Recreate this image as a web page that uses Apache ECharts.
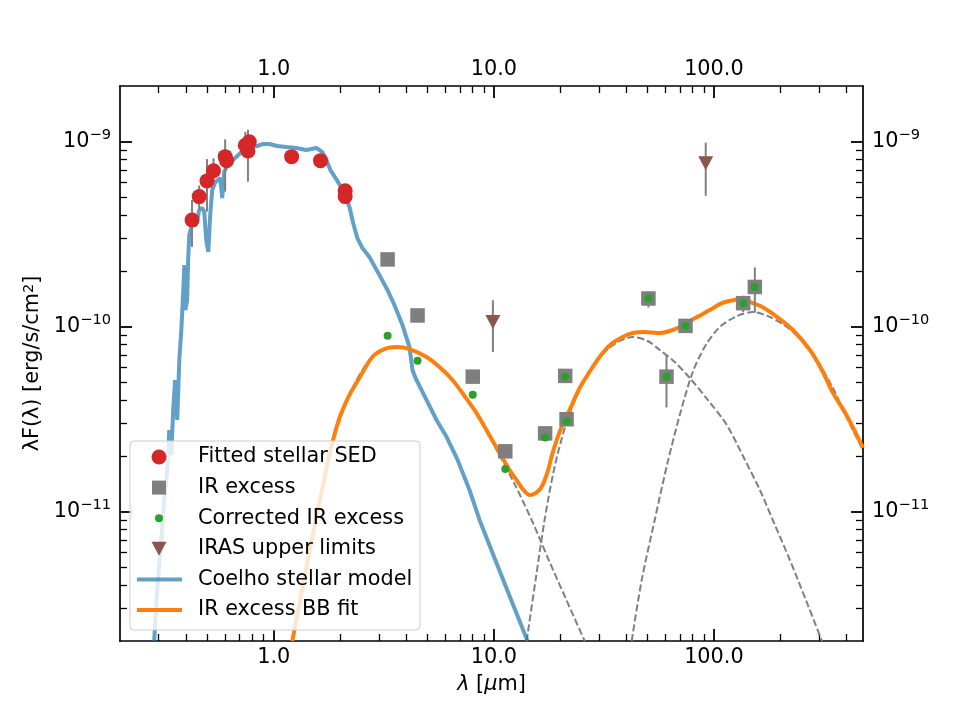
<!DOCTYPE html>
<html>
<head>
<meta charset="utf-8">
<title>SED</title>
<script src="https://cdn.jsdelivr.net/npm/echarts@6/dist/echarts.min.js"></script>
<style>
  html, body { margin: 0; padding: 0; background: #fff; }
  #main { width: 960px; height: 720px; }
</style>
</head>
<body>
<div id="main"></div>
<script>
// axis ranges / ticks
var xMin = 0.2, xMax = 476;
var yMin = 2e-12, yMax = 2e-9;
var xMajorTicks = [1, 10, 100];
var xMinorTicks = [0.3, 0.4, 0.5, 0.6, 0.7, 0.8, 0.9, 2, 3, 4, 5, 6, 7, 8, 9, 20, 30, 40, 50, 60, 70, 80, 90, 200, 300, 400];
var yMajorTicks = [1e-11, 1e-10, 1e-9];
var yMinorTicks = [3e-12, 4e-12, 5e-12, 6e-12, 7e-12, 8e-12, 9e-12, 2e-11, 3e-11, 4e-11, 5e-11, 6e-11, 7e-11, 8e-11, 9e-11,
  2e-10, 3e-10, 4e-10, 5e-10, 6e-10, 7e-10, 8e-10, 9e-10];

// fitted stellar SED (micron, erg/s/cm2)
var sedWave = [0.425, 0.458, 0.497, 0.532, 0.601, 0.610, 0.742, 0.774, 0.763, 1.205, 1.63, 2.11, 2.11];
var sedFlux = [3.77e-10, 5.05e-10, 6.14e-10, 6.97e-10, 8.30e-10, 7.90e-10, 9.57e-10, 1.0e-9, 8.9e-10, 8.3e-10, 7.9e-10, 5.43e-10, 5.05e-10];

// IR excess and corrected IR excess
var irWave = [3.29, 4.5, 8.02, 11.27, 17.1, 21.1, 21.4, 50.4, 60.9, 74.3, 135.8, 153.5];
var irFlux = [2.31e-10, 1.15e-10, 5.37e-11, 2.12e-11, 2.65e-11, 5.42e-11, 3.16e-11, 1.42e-10, 5.37e-11, 1.01e-10, 1.34e-10, 1.64e-10];
var corrFlux = [8.93e-11, 6.55e-11, 4.28e-11, 1.70e-11, 2.52e-11, 5.37e-11, 3.08e-11, 1.42e-10, 5.37e-11, 1.01e-10, 1.34e-10, 1.64e-10];

// IRAS upper limits
var irasWave = [9.9, 91.8];
var irasFlux = [1.06e-10, 7.64e-10];

// error bars (low, high)
var errWave = [0.425, 0.458, 0.497, 0.532, 0.601, 0.742, 0.763, 50.4, 60.9, 135.8, 153.5, 9.9, 91.8];
var errLow  = [2.70e-10, 4.3e-10, 4.19e-10, 6.2e-10, 5.37e-10, 8.83e-10, 6.08e-10, 1.27e-10, 3.66e-11, 1.2e-10, 1.19e-10, 7.3e-11, 5.1e-10];
var errHigh = [4.84e-10, 5.8e-10, 8.05e-10, 8.14e-10, 1.03e-9, 1.13e-9, 1.16e-9, 1.55e-10, 7.03e-11, 1.47e-10, 2.09e-10, 1.39e-10, 9.88e-10];

// Coelho stellar model
var modelWave = [0.286, 0.295, 0.308, 0.318, 0.328, 0.335, 0.342, 0.349, 0.356, 0.364, 0.372, 0.380, 0.388, 0.392, 0.396,
  0.404, 0.408, 0.413, 0.421, 0.430, 0.439, 0.449, 0.458, 0.473, 0.483, 0.493, 0.504, 0.514, 0.525, 0.542, 0.559, 0.571,
  0.583, 0.595, 0.614, 0.641, 0.675, 0.711, 0.750, 0.790, 0.841, 0.896, 0.954, 1.037, 1.140, 1.266, 1.406, 1.481, 1.561,
  1.662, 1.734, 1.807, 1.905, 2.007, 2.115, 2.206, 2.300, 2.398, 2.527, 2.719, 3.020, 3.284, 3.533, 3.843, 4.136, 4.267,
  4.404, 4.688, 4.994, 5.487, 6.094, 6.837, 7.752, 8.610, 10.07, 11.79, 14.23];
var modelFlux = [2.0e-12, 3.78e-12, 7.04e-12, 1.16e-11, 1.68e-11, 2.76e-11, 2.02e-11, 3.55e-11, 5.15e-11, 3.13e-11, 6.6e-11,
  9.6e-11, 1.58e-10, 2.15e-10, 1.23e-10, 1.39e-10, 2.29e-10, 3.13e-10, 3.42e-10, 3.68e-10, 3.50e-10, 3.77e-10, 4.28e-10,
  4.38e-10, 4.17e-10, 2.94e-10, 2.54e-10, 4.02e-10, 5.48e-10, 6.06e-10, 6.21e-10, 6.37e-10, 4.96e-10, 6.87e-10, 7.40e-10,
  7.77e-10, 8.27e-10, 8.79e-10, 9.36e-10, 9.48e-10, 9.48e-10, 9.72e-10, 9.72e-10, 9.48e-10, 9.36e-10, 9.25e-10, 9.02e-10,
  9.13e-10, 9.25e-10, 8.79e-10, 7.96e-10, 7.03e-10, 6.37e-10, 5.77e-10, 5.09e-10, 4.44e-10, 3.59e-10, 3.01e-10, 2.66e-10,
  2.38e-10, 1.90e-10, 1.58e-10, 1.31e-10, 1.02e-10, 7.76e-11, 5.83e-11, 5.28e-11, 4.55e-11, 3.92e-11, 3.13e-11, 2.54e-11,
  1.91e-11, 1.31e-11, 9.02e-12, 5.62e-12, 3.50e-12, 2.0e-12];

// IR excess BB fit (total)
var fitWave = [1.214, 1.306, 1.450, 1.611, 1.789, 1.986, 2.206, 2.449, 2.806, 3.183, 3.646, 4.136, 4.941, 5.662, 6.488,
  7.357, 8.342, 9.362, 10.61, 11.79, 12.69, 13.65, 14.54, 15.48, 16.48, 17.55, 18.50, 19.91, 22.11, 24.55, 28.12, 31.22,
  34.67, 38.50, 42.76, 48.48, 56.75, 63.02, 69.98, 81.88, 95.8, 108.6, 121.9, 134.0, 145.7, 165.2, 193.3, 228.6, 273.2,
  309.7, 347.5, 402.5, 476];
var fitFlux = [2.0e-12, 3.17e-12, 6.05e-12, 1.11e-11, 2.02e-11, 3.20e-11, 4.27e-11, 5.28e-11, 6.86e-11, 7.57e-11, 7.76e-11,
  7.57e-11, 6.86e-11, 6.05e-11, 5.15e-11, 4.22e-11, 3.41e-11, 2.70e-11, 2.08e-11, 1.68e-11, 1.48e-11, 1.31e-11, 1.23e-11,
  1.26e-11, 1.36e-11, 1.64e-11, 2.08e-11, 2.70e-11, 3.55e-11, 4.66e-11, 6.05e-11, 7.21e-11, 8.17e-11, 8.80e-11, 9.24e-11,
  9.36e-11, 9.24e-11, 9.48e-11, 9.96e-11, 1.11e-10, 1.23e-10, 1.34e-10, 1.39e-10, 1.41e-10, 1.36e-10, 1.28e-10, 1.13e-10,
  9.6e-11, 7.48e-11, 5.83e-11, 4.39e-11, 3.29e-11, 2.21e-11];

// individual blackbody components (dashed)
var bb1Wave = [1.214, 1.450, 1.789, 2.206, 2.806, 3.646, 4.941, 6.488, 8.342, 10.61, 12.43, 14.85, 17.92, 21.42, 25.87];
var bb1Flux = [2.0e-12, 6.05e-12, 2.02e-11, 4.27e-11, 6.86e-11, 7.76e-11, 6.86e-11, 5.15e-11, 3.41e-11, 2.02e-11, 1.41e-11,
  9.02e-12, 5.35e-12, 3.31e-12, 2.0e-12];
var bb2Wave = [14.09, 15.48, 17.01, 18.89, 21.42, 24.55, 28.12, 31.89, 36.54, 42.76, 50.04, 56.75, 66.39, 77.70, 93.82,
  114.5, 138.2, 161.8, 189.3, 221.5, 261.9, 309.7];
var bb2Flux = [2.0e-12, 4.28e-12, 9.02e-12, 1.75e-11, 3.05e-11, 4.55e-11, 5.98e-11, 7.29e-11, 8.26e-11, 8.79e-11, 8.37e-11,
  7.48e-11, 6.44e-11, 5.28e-11, 4.02e-11, 2.94e-11, 1.91e-11, 1.31e-11, 8.48e-12, 5.48e-12, 3.33e-12, 2.0e-12];
var bb3Wave = [42.31, 46.99, 53.84, 61.70, 69.98, 80.17, 91.89, 106.4, 127.1, 150.3, 175.9, 205.9, 246.0, 287.7, 347.5,
  406.6, 476];
var bb3Flux = [2.0e-12, 4.28e-12, 9.02e-12, 1.86e-11, 3.33e-11, 5.69e-11, 7.96e-11, 9.96e-11, 1.14e-10, 1.20e-10, 1.14e-10,
  1.03e-10, 8.69e-11, 6.86e-11, 4.66e-11, 3.13e-11, 2.16e-11];

var legendNames = ['Fitted stellar SED', 'IR excess', 'Corrected IR excess', 'IRAS upper limits',
  'Coelho stellar model', 'IR excess BB fit'];

function zip(a, b) {
  return a.map(function (v, i) { return [v, b[i]]; });
}

var FONT = 'DejaVu Sans';
var FS = 20.8;   // 10pt at 150 dpi
var FS_SUP = 14.6;

function xAx(pos, major, name) {
  return {
    type: 'log', logBase: 10, min: xMin, max: xMax, position: pos,
    name: name || '', nameLocation: 'middle', nameGap: 33,
    nameTextStyle: {
      color: '#000', fontSize: FS, fontFamily: FONT,
      rich: { i: { fontSize: FS, fontFamily: FONT, fontStyle: 'italic', color: '#000' } }
    },
    axisLine: { show: major, onZero: false, lineStyle: { color: '#000', width: 1.7 } },
    axisTick: {
      show: true, inside: true, length: major ? 12 : 7,
      customValues: major ? xMajorTicks : xMinorTicks,
      lineStyle: { color: '#000', width: major ? 1.8 : 1.3 }
    },
    axisLabel: {
      show: major, customValues: xMajorTicks, margin: 6, color: '#000', fontSize: FS, fontFamily: FONT,
      formatter: function (v) { return Number(v).toFixed(1); }
    },
    splitLine: { show: false }
  };
}

function yAx(pos, major, name) {
  return {
    type: 'log', logBase: 10, min: yMin, max: yMax, position: pos,
    name: name || '', nameLocation: 'middle', nameGap: 76,
    nameTextStyle: {
      color: '#000', fontSize: FS, fontFamily: FONT,
      rich: { s: { fontSize: FS_SUP, fontFamily: FONT, color: '#000', verticalAlign: 'top', lineHeight: 16 } }
    },
    axisLine: { show: major, onZero: false, lineStyle: { color: '#000', width: 1.7 } },
    axisTick: {
      show: true, inside: true, length: major ? 12 : 7,
      customValues: major ? yMajorTicks : yMinorTicks,
      lineStyle: { color: '#000', width: major ? 1.8 : 1.3 }
    },
    axisLabel: {
      show: major, customValues: yMajorTicks, margin: 9, color: '#000', fontSize: FS, fontFamily: FONT,
      formatter: function (v) {
        var e = Math.round(Math.log10(v));
        return '{b|10}{s|\u2212' + (-e) + '}';
      },
      rich: {
        b: { fontSize: FS, fontFamily: FONT, color: '#000', lineHeight: 28 },
        s: { fontSize: FS_SUP, fontFamily: FONT, color: '#000', verticalAlign: 'top', lineHeight: 16 }
      }
    },
    splitLine: { show: false }
  };
}

// legend drawn as graphic
var legX = 130, legY = 441, rowY0 = 457, rowH = 30.6, mX = 159;
var legendGraphic = [{
  type: 'rect', z: 100,
  shape: { x: legX, y: legY, width: 290, height: 189, r: 4 },
  style: { fill: 'rgba(255,255,255,0.8)', stroke: '#cccccc', lineWidth: 1 }
}];
var markers = [
  { type: 'circle', shape: { cx: mX, cy: 0, r: 7.5 }, style: { fill: '#d62728' } },
  { type: 'rect', shape: { x: mX - 7, y: -7, width: 14, height: 14 }, style: { fill: '#7f7f7f' } },
  { type: 'circle', shape: { cx: mX, cy: 0, r: 4 }, style: { fill: '#2ca02c' } },
  { type: 'polygon', shape: { points: [[mX - 7.5, -7], [mX + 7.5, -7], [mX, 7]] }, style: { fill: '#8c564b' } },
  { type: 'line', shape: { x1: 137, y1: 0, x2: 182, y2: 0 }, style: { stroke: 'rgba(31,119,180,0.7)', lineWidth: 4 } },
  { type: 'line', shape: { x1: 137, y1: 0, x2: 182, y2: 0 }, style: { stroke: '#ff7f0e', lineWidth: 4 } }
];
legendNames.forEach(function (n, i) {
  var m = markers[i];
  m.z = 101;
  m.y = rowY0 + i * rowH;
  legendGraphic.push(m);
  legendGraphic.push({
    type: 'text', z: 101, x: 198, y: rowY0 + i * rowH,
    style: { text: n, fill: '#000', font: FS + 'px "' + FONT + '"', textVerticalAlign: 'middle', textAlign: 'left' }
  });
});

var chart = echarts.init(document.getElementById('main'));
var option = {
  animation: false,
  backgroundColor: '#fff',
  grid: { left: 120, right: 97, top: 86, bottom: 79, containLabel: false },
  xAxis: [xAx('bottom', true, '{i|\u03bb} [{i|\u03bc}m]'), xAx('bottom', false), xAx('top', true), xAx('top', false)],
  yAxis: [yAx('left', true, '\u03bbF(\u03bb) [erg/s/cm{s|2}]'), yAx('left', false), yAx('right', true), yAx('right', false)],
  series: [
    { name: 'bb1', type: 'line', data: zip(bb1Wave, bb1Flux), smooth: 0.3, showSymbol: false, z: 1,
      lineStyle: { color: '#808080', width: 2, type: [7, 3] } },
    { name: 'bb2', type: 'line', data: zip(bb2Wave, bb2Flux), smooth: 0.3, showSymbol: false, z: 1,
      lineStyle: { color: '#808080', width: 2, type: [7, 3] } },
    { name: 'bb3', type: 'line', data: zip(bb3Wave, bb3Flux), smooth: 0.3, showSymbol: false, z: 1,
      lineStyle: { color: '#808080', width: 2, type: [7, 3] } },
    { name: 'Coelho stellar model', type: 'line', data: zip(modelWave, modelFlux), showSymbol: false, z: 2,
      lineStyle: { color: '#1f77b4', opacity: 0.7, width: 4 } },
    { name: 'IR excess BB fit', type: 'line', data: zip(fitWave, fitFlux), smooth: 0.3, showSymbol: false, z: 3,
      lineStyle: { color: '#ff7f0e', width: 4 } },
    { name: 'errors', type: 'custom', z: 4,
      data: errWave.map(function (w, i) { return [w, errLow[i], errHigh[i]]; }),
      encode: { x: 0, y: [1, 2] },
      renderItem: function (params, api) {
        var lo = api.coord([api.value(0), api.value(1)]);
        var hi = api.coord([api.value(0), api.value(2)]);
        return { type: 'line', shape: { x1: lo[0], y1: lo[1], x2: hi[0], y2: hi[1] },
          style: { stroke: '#808080', lineWidth: 2 } };
      } },
    { name: 'IR excess', type: 'scatter', data: zip(irWave, irFlux), symbol: 'rect', symbolSize: 14.5, z: 5,
      itemStyle: { color: '#7f7f7f', opacity: 1 } },
    { name: 'Corrected IR excess', type: 'scatter', data: zip(irWave, corrFlux), symbol: 'circle', symbolSize: 8, z: 6,
      itemStyle: { color: '#2ca02c', opacity: 1 } },
    { name: 'Fitted stellar SED', type: 'scatter', data: zip(sedWave, sedFlux), symbol: 'circle', symbolSize: 15, z: 7,
      itemStyle: { color: '#d62728', opacity: 1 } },
    { name: 'IRAS upper limits', type: 'scatter', data: zip(irasWave, irasFlux), symbol: 'triangle', symbolRotate: 180,
      symbolSize: [15, 14], z: 7, itemStyle: { color: '#8c564b', opacity: 1 } }
  ],
  graphic: legendGraphic
};
chart.setOption(option);
</script>
</body>
</html>
